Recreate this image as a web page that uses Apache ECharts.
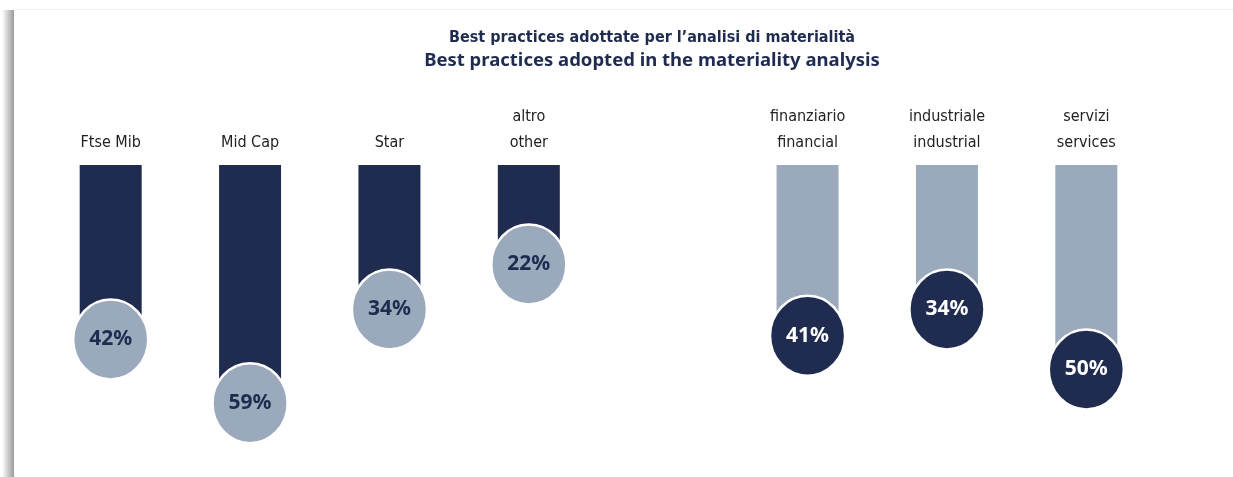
<!DOCTYPE html>
<html>
<head>
<meta charset="utf-8">
<script src="https://cdn.jsdelivr.net/npm/echarts@6/dist/echarts.min.js"></script>
<style>
  html, body { margin: 0; padding: 0; background: #fff; }
  #chart { width: 1233px; height: 477px; }
</style>
</head>
<body>
<div id="chart"></div>
<script>
// categories, one empty slot between the two groups
const categories = ['Ftse Mib', 'Mid Cap', 'Star', 'altro\nother', '', 'finanziario\nfinancial', 'industriale\nindustrial', 'servizi\nservices']
// percentages per market segment (left group)
const segmentValues = [42, 59, 34, 22, null, null, null, null]
// percentages per sector (right group)
const sectorValues = [null, null, null, null, null, 41, 34, 50]

const titleIt = 'Best practices adottate per l’analisi di materialità'
const titleEn = 'Best practices adopted in the materiality analysis'

const NAVY = '#1f2c50'
const GREY = '#9aa9bb'
const NARROW = '"DejaVu Sans Condensed", "Liberation Sans Narrow", "Roboto Condensed", sans-serif'
const ELLIPSE = 'path://M0,40A37.5,40,0,1,1,75,40A37.5,40,0,1,1,0,40Z'

let myChart = echarts.init(document.getElementById('chart'))

function dotSeries(data, fill, textColor) {
  return {
    type: 'scatter',
    data: data,
    symbol: ELLIPSE,
    symbolSize: [75, 80],
    symbolOffset: [0, 17],
    z: 5,
    itemStyle: {
      color: fill,
      opacity: 1,
      borderColor: '#fff',
      borderWidth: 2.5
    },
    label: {
      show: true,
      position: 'inside',
      formatter: '{c}%',
      color: textColor,
      fontFamily: 'Noto Sans',
      fontWeight: 'bold',
      fontSize: 21
    },
    emphasis: { disabled: true }
  }
}

let option = {
  animation: false,
  backgroundColor: '#fff',
  title: [{
    text: titleIt,
    left: 647,
    top: 25,
    textAlign: 'center',
    textStyle: {
      color: NAVY,
      fontFamily: NARROW,
      fontWeight: 'bold',
      fontSize: 16
    }
  }, {
    text: titleEn,
    left: 647,
    top: 46,
    textAlign: 'center',
    textStyle: {
      color: NAVY,
      fontFamily: 'Noto Sans',
      fontWeight: 'bold',
      fontSize: 18.5
    }
  }],
  // panel edge: soft shadow on the left and a faint line on top
  graphic: [{
    type: 'rect',
    shape: { x: 2, y: 10, width: 12, height: 467 },
    style: {
      fill: {
        type: 'linear', x: 0, y: 0, x2: 1, y2: 0,
        colorStops: [{ offset: 0, color: '#ffffff' }, { offset: 1, color: '#9a9a9a' }]
      }
    },
    z: 10
  }, {
    type: 'rect',
    shape: { x: 14, y: 9, width: 1219, height: 1 },
    style: { fill: '#eeeeee' },
    z: 10
  }],
  grid: {
    left: 41,
    right: 77,
    top: 165,
    bottom: 12
  },
  xAxis: {
    type: 'category',
    position: 'top',
    data: categories,
    axisLine: { show: false },
    axisTick: { show: false },
    axisLabel: {
      interval: 0,
      margin: 9,
      color: '#222',
      fontFamily: NARROW,
      fontSize: 16,
      lineHeight: 26
    }
  },
  yAxis: {
    type: 'value',
    inverse: true,
    min: 0,
    max: 80,
    show: false,
    splitLine: { show: false }
  },
  series: [{
    type: 'bar',
    data: segmentValues,
    barWidth: 62,
    barGap: '-100%',
    itemStyle: { color: NAVY },
    emphasis: { disabled: true }
  }, {
    type: 'bar',
    data: sectorValues,
    barWidth: 62,
    barGap: '-100%',
    itemStyle: { color: GREY },
    emphasis: { disabled: true }
  },
  dotSeries(segmentValues, GREY, NAVY),
  dotSeries(sectorValues, NAVY, '#fff')
  ]
}

myChart.setOption(option)
</script>
</body>
</html>
